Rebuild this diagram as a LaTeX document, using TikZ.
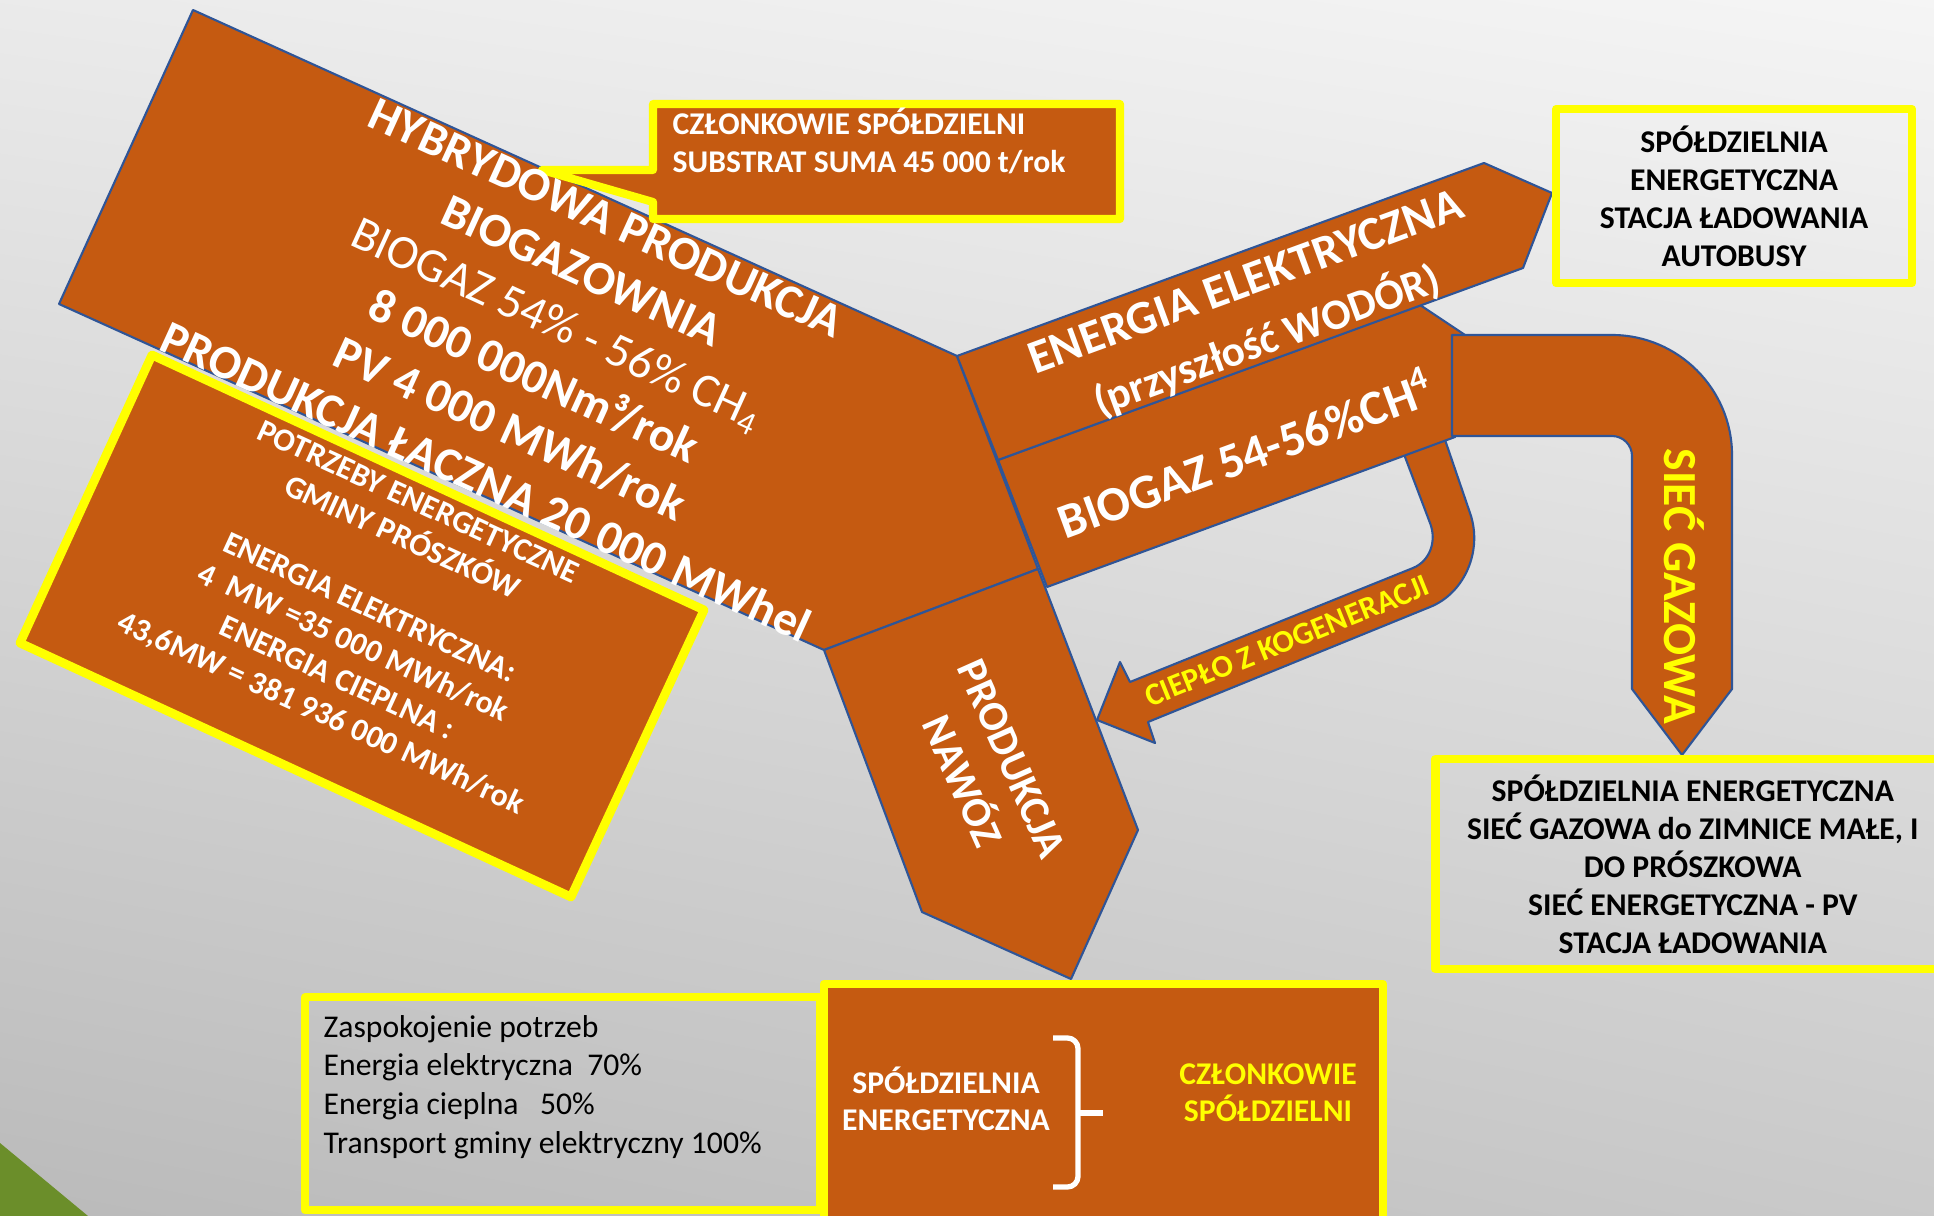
\documentclass[tikz,border=0pt]{standalone}
\usepackage{fontspec}
\setmainfont{Carlito}
\usetikzlibrary{shadings}
\definecolor{cOrange}{HTML}{C55A11}
\definecolor{cEdge}{HTML}{2F5597}
\definecolor{cYellow}{HTML}{FFFF00}
\definecolor{cGreen}{HTML}{6B8E2A}

\begin{document}
\begin{tikzpicture}[x=0.01cm, y=-0.01cm, line join=round,
    flow/.style={fill=cOrange, draw=cEdge, line width=0.6pt},
    ybox/.style={draw=cYellow, line width=2.3pt},
    wlab/.style={text=white, align=center, inner sep=0pt},
    blab/.style={text=black, align=center, font=\fontsize{9}{10.8}\selectfont\bfseries}]
\useasboundingbox (0,0) rectangle (1934,1216);
\shade[upper left=black!8, upper right=black!4, lower left=black!27, lower right=black!21] (0,0) rectangle (1934,1216);
\fill[cGreen] (0,1143) -- (88,1216) -- (0,1216) -- cycle;

% flows
\draw[flow] (193,10) -- (957,356) -- (1038,569) -- (824,650) -- (59,304) -- cycle;
\draw[ybox, line width=2.5pt, fill=cOrange] (152,355) -- (704,610) -- (571,897) -- (20,643) -- cycle;
\draw[flow] (824,650) -- (1038,569) -- (1138,830) -- (1071,979) -- (922,912) -- cycle;
\draw[flow] (1402,449) -- (1430,523) .. controls (1437,541) and (1430,561) .. (1413,568) -- (1130,682) -- (1120,662) -- (1097,720) -- (1155,743) -- (1148,722) -- (1430,607) .. controls (1465,593) and (1483,550) .. (1470,513) -- (1443,434) -- cycle;
\draw[flow] (998,460) -- (1420,305) -- (1465,335) -- (1455,437) -- (1047,587) -- cycle;
\draw[flow] (1452,335) -- (1612,335) .. controls (1678,335) and (1732,389) .. (1732,455) -- (1732,689) -- (1682,755) -- (1632,689) -- (1632,456) .. controls (1632,445) and (1623,436) .. (1612,436) -- (1452,436) -- cycle;
\draw[flow] (957,356) -- (1484,163) -- (1552,193) -- (1523,268) -- (998,460) -- cycle;
\draw[ybox, fill=cOrange] (653,104) -- (1120,104) -- (1120,219) -- (653,219) -- (653,202) -- (542,170) -- (653,170) -- cycle;

% boxes
\node[ybox, blab, minimum width=3.555cm, minimum height=1.74cm] (bus) at (1734,196) {SPÓŁDZIELNIA\\ENERGETYCZNA\\STACJA ŁADOWANIA\\AUTOBUSY};
\node[ybox, blab, minimum width=5.144cm, minimum height=2.1cm] (siec) at (1692.8,864) {SPÓŁDZIELNIA ENERGETYCZNA\\SIEĆ GAZOWA do ZIMNICE MAŁE, I\\DO PRÓSZKOWA\\SIEĆ ENERGETYCZNA - PV\\STACJA ŁADOWANIA};
\node[ybox, minimum width=5.15cm, minimum height=2.125cm] (zbox) at (562.5,1103.75) {};
\node[ybox, fill=cOrange, minimum width=5.59cm, minimum height=2.5cm] (sbox) at (1103.5,1109) {};
\draw[white, line width=1.5pt, rounded corners=3pt] (1053,1038) -- (1078,1038) -- (1078,1187) -- (1053,1187);
\draw[white, line width=1.5pt] (1078,1113) -- (1103,1113);

% labels
\node[wlab, rotate=-24.5, font=\fontsize{13.6}{16.5}\selectfont\bfseries] (hyb) at (546,350) {HYBRYDOWA PRODUKCJA\\BIOGAZOWNIA\\{\mdseries BIOGAZ 54\% - 56\% CH\textsubscript{4}}\\8 000 000Nm³/rok\\PV 4 000 MWh/rok\\PRODUKCJA ŁACZNA 20 000 MWhel};
\node[wlab, rotate=-24.7, font=\fontsize{9.1}{11}\selectfont\bfseries] (need) at (369,609) {POTRZEBY ENERGETYCZNE\\GMINY PRÓSZKÓW\\[11pt]ENERGIA ELEKTRYCZNA:\\4\ \ MW =35 000 MWh/rok\\ENERGIA CIEPLNA :\\43,6MW = 381 936 000 MWh/rok};
\node[wlab, anchor=west, align=left, font=\fontsize{9}{10.8}\selectfont\bfseries] (subs) at (672,141) {CZŁONKOWIE SPÓŁDZIELNI\\SUBSTRAT SUMA 45 000 t/rok};
\node[wlab, rotate=20.1, font=\fontsize{13.5}{17.5}\selectfont\bfseries] (elek) at (1257,313) {ENERGIA ELEKTRYCZNA\\{\fontsize{12.3}{17.5}\selectfont (przyszłość WODÓR)}};
\node[wlab, rotate=20.1, font=\fontsize{14}{17}\selectfont\bfseries] (bgz) at (1245,452) {BIOGAZ 54-56\%CH\textsuperscript{4}};
\node[wlab, text=cYellow, rotate=-90, font=\fontsize{13.5}{16}\selectfont\bfseries] (gaz) at (1684.5,586.5) {SIEĆ GAZOWA};
\node[wlab, rotate=-66, font=\fontsize{12}{15.5}\selectfont\bfseries] (naw) at (987,770) {PRODUKCJA\\NAWÓZ};
\node[wlab, text=cYellow, rotate=22, font=\fontsize{9}{11}\selectfont\bfseries] (cie) at (1287,641) {CIEPŁO Z KOGENERACJI};
\node[anchor=west, align=left, inner sep=0pt, font=\fontsize{9}{11}\selectfont] (ztxt) at (323,1087) {Zaspokojenie potrzeb\\Energia elektryczna\ \ 70\%\\Energia cieplna\ \ \ 50\%\\Transport gminy elektryczny 100\%};
\node[wlab, font=\fontsize{9}{10.6}\selectfont\bfseries] (spe) at (946,1099) {SPÓŁDZIELNIA\\ENERGETYCZNA};
\node[wlab, text=cYellow, font=\fontsize{9}{10.6}\selectfont\bfseries] (czl) at (1268,1093) {CZŁONKOWIE\\SPÓŁDZIELNI};
\end{tikzpicture}
\end{document}
